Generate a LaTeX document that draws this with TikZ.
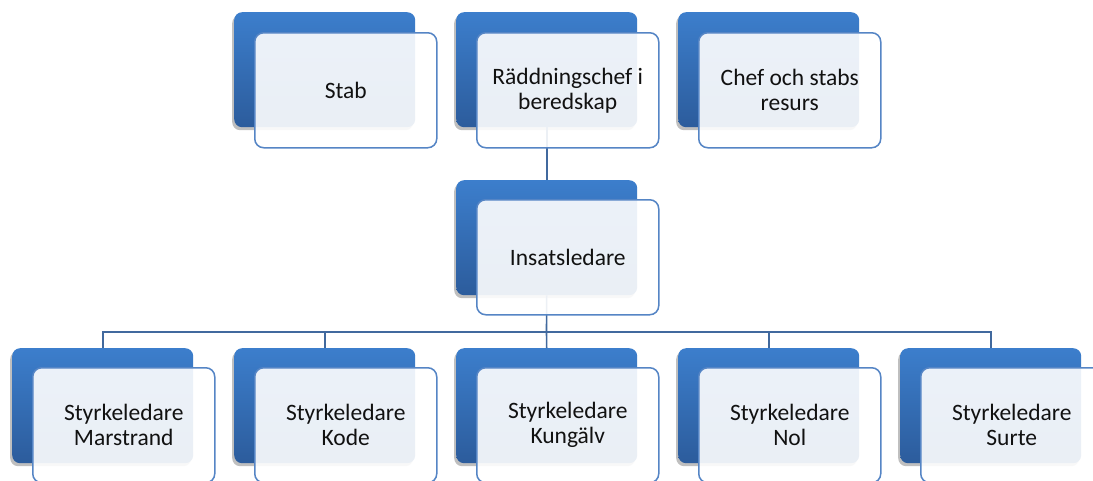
\documentclass[tikz,border=0pt]{standalone}
\usepackage{fontspec}
\setmainfont{Carlito}
\usetikzlibrary{shadows}
\definecolor{bktop}{HTML}{3C7ECC}
\definecolor{bkbot}{HTML}{2C5C9C}
\definecolor{frborder}{HTML}{5585C5}
\definecolor{conn}{HTML}{41699E}
\definecolor{txt}{HTML}{111111}
\tikzset{
  backbox/.style={rectangle, rounded corners=8pt, anchor=north west, inner sep=0pt,
    minimum width=181pt, minimum height=115pt, top color=bktop, bottom color=bkbot,
    drop shadow={shadow xshift=-2pt, shadow yshift=-3pt, opacity=0.25, fill=black}},
  frontbox/.style={rectangle, rounded corners=9pt, anchor=north west, inner sep=0pt,
    minimum width=182pt, minimum height=115pt, draw=frborder, line width=1.5pt,
    fill=white, fill opacity=0.9, text opacity=1, text=txt, align=center,
    font=\fontsize{23.5}{25}\selectfont},
  connector/.style={draw=conn, line width=1.6pt}
}
\begin{document}
\begin{tikzpicture}[x=1pt,y=-1pt]
\clip (0,0) rectangle (1093,480);
\fill[white] (0,0) rectangle (1093,480);
% back boxes
\node[backbox] (stabb) at (234,12) {};
\node[backbox] (rcb) at (456,12) {};
\node[backbox] (chefb) at (678,12) {};
\node[backbox] (insb) at (456,180) {};
\node[backbox] (c1b) at (12,348) {};
\node[backbox] (c2b) at (234,348) {};
\node[backbox] (c3b) at (456,348) {};
\node[backbox] (c4b) at (678,348) {};
\node[backbox] (c5b) at (900,348) {};
% connectors
\coordinate (bus) at (546.5,332);
\draw[connector] (rcb.south) -- (insb.north);
\draw[connector] (insb.south) -- (bus);
\draw[connector] (bus) -| (c1b.north);
\draw[connector] (bus) -| (c2b.north);
\draw[connector] (bus) -- (c3b.north);
\draw[connector] (bus) -| (c4b.north);
\draw[connector] (bus) -| (c5b.north);
% front boxes
\node[frontbox] (stab) at (254,32) {Stab};
\node[frontbox] (rc) at (476,32) {Räddningschef i\\beredskap};
\node[frontbox] (chef) at (698,32) {Chef och stabs\\resurs};
\node[frontbox] (ins) at (476,199) {Insatsledare};
\node[frontbox] (c1) at (32,367) {Styrkeledare\\Marstrand};
\node[frontbox] (c2) at (254,367) {Styrkeledare\\Kode};
\node[frontbox] (c3) at (476,367) {Styrkeledare\\Kungälv};
\node[frontbox] (c4) at (698,367) {Styrkeledare\\Nol};
\node[frontbox] (c5) at (920,367) {Styrkeledare\\Surte};
\end{tikzpicture}
\end{document}
